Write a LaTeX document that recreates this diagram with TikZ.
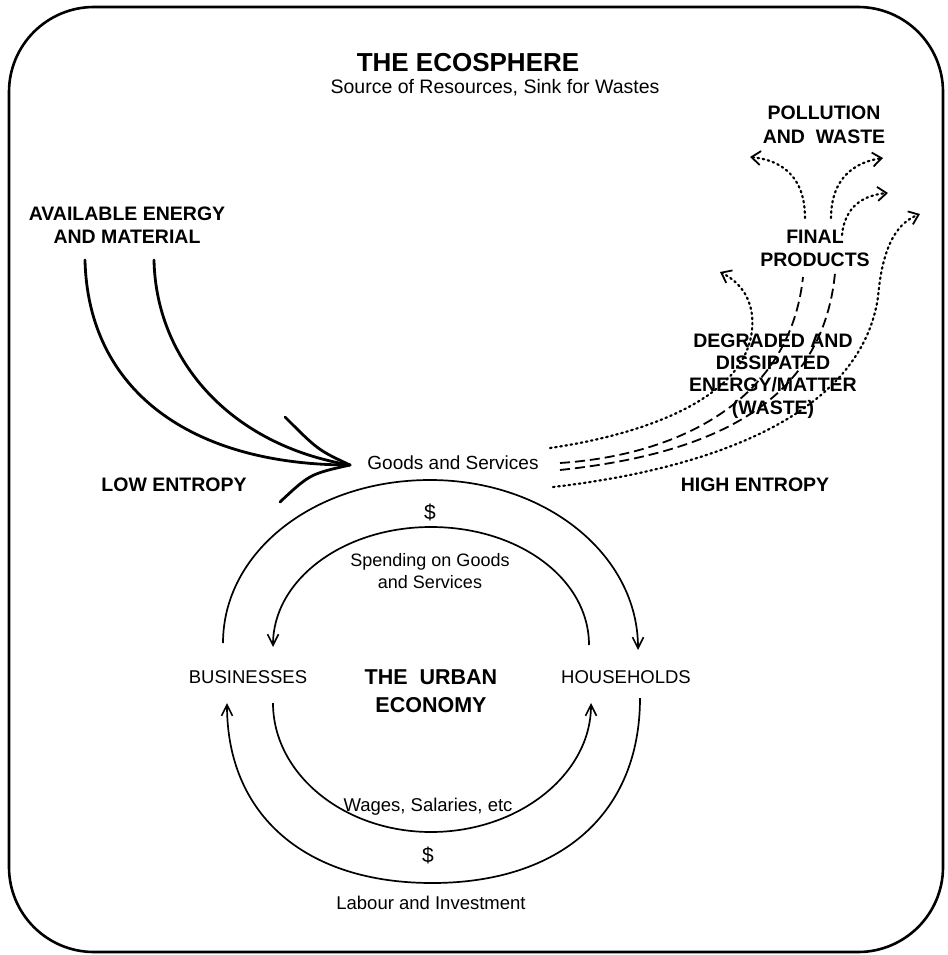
\documentclass[tikz,border=0pt]{standalone}
\usepackage{fontspec}
\setmainfont{Liberation Sans}
\usetikzlibrary{arrows.meta}
\begin{document}
\begin{tikzpicture}[x=1pt,y=-1pt,
  lbl/.style={font=\fontsize{19.5}{23.5}\selectfont\bfseries, align=center, inner sep=0pt},
  txt/.style={font=\fontsize{18.5}{22}\selectfont, align=center, inner sep=0pt},
  frame/.style={line width=2.6pt, rounded corners=85pt},
  bigline/.style={line width=2.8pt, line cap=round},
  loopline/.style={line width=1.7pt},
  looptip/.style={-{Straight Barb[length=11pt,width=11pt,line width=1.6pt]}},
  dotline/.style={line width=2.2pt, dash pattern=on 1.6pt off 3.6pt, line cap=round},
  dashline/.style={line width=1.8pt, dash pattern=on 10pt off 5pt},
  dottip/.style={-{Straight Barb[length=9pt,width=14pt,line width=1.8pt]}}]
\useasboundingbox (0,0) rectangle (947,955);
\draw[frame] (9,7) rectangle (943,952);

% titles
\node[font=\fontsize{26}{30}\selectfont\bfseries, inner sep=0pt] (title) at (468,63) {THE ECOSPHERE};
\node[font=\fontsize{19.5}{23}\selectfont, inner sep=0pt] (subtitle) at (495,88) {Source of Resources, Sink for Wastes};

% labels
\node[lbl] (poll) at (824,125) {POLLUTION\\AND~~WASTE};
\node[lbl, font=\fontsize{19.5}{23}\selectfont\bfseries] (final) at (815,248) {FINAL\\PRODUCTS};
\node[lbl, font=\fontsize{19.5}{22.3}\selectfont\bfseries] (degr) at (773,376) {DEGRADED AND\\DISSIPATED\\ENERGY/MATTER\\(WASTE)};
\node[lbl] (high) at (755,485) {HIGH ENTROPY};
\node[lbl] (avail) at (127,225) {AVAILABLE ENERGY\\AND MATERIAL};
\node[lbl] (low) at (174,485) {LOW ENTROPY};
\node[txt, font=\fontsize{19}{22}\selectfont] (gs) at (453,463) {Goods and Services};
\node[txt, font=\fontsize{21}{24}\selectfont] (dol1) at (430,512) {\$};
\node[txt, font=\fontsize{18}{22}\selectfont] (spend) at (430,571) {Spending on Goods\\and Services};
\node[txt] (bus) at (248,677) {BUSINESSES};
\node[txt] (hou) at (626,677) {HOUSEHOLDS};
\node[font=\fontsize{21.5}{28}\selectfont\bfseries, align=center, inner sep=0pt] (urban) at (431,691) {THE~~URBAN\\ECONOMY};
\node[txt] (wages) at (428,807) {Wages, Salaries, etc};
\node[txt, font=\fontsize{21}{24}\selectfont] (dol2) at (428,855) {\$};
\node[txt] (labour) at (431,903) {Labour and Investment};

% left input arrows
\coordinate (avL) at (85,260);
\coordinate (avR) at (154,260);
\coordinate (tipL) at (350,465);
\coordinate (barbU) at (285,417);
\coordinate (barbD) at (280,502);
\draw[bigline] (avL) .. controls (88,390) and (190,465) .. (tipL);
\draw[bigline] (avR) .. controls (156,360) and (230,445) .. (tipL);
\draw[bigline] (barbU) .. controls (318,450) .. (tipL);
\draw[bigline] (barbD) .. controls (310,474) .. (tipL);

% economy loops
\coordinate (otL) at (223,643); \coordinate (otP) at (430,480); \coordinate (otR) at (638,650);
\coordinate (itR) at (589,645); \coordinate (itP) at (431,527); \coordinate (itL) at (273,647);
\coordinate (obR) at (640,698); \coordinate (obP) at (432,883); \coordinate (obL) at (227,703);
\coordinate (ibL) at (273,703); \coordinate (ibP) at (431,832); \coordinate (ibR) at (591,703);
\draw[loopline, looptip] (otL) .. controls +(0,-91) and +(-116,0) .. (otP) .. controls +(116,0) and +(0,-95) .. (otR);
\draw[loopline, looptip] (itR) .. controls +(0,-66) and +(88,0) .. (itP) .. controls +(-88,0) and +(0,-67) .. (itL);
\draw[loopline, looptip] (obR) .. controls +(0,115) and +(129,0) .. (obP) .. controls +(-127,0) and +(0,112) .. (obL);
\draw[loopline, looptip] (ibL) .. controls +(0,71) and +(-87,0) .. (ibP) .. controls +(88,0) and +(0,71) .. (ibR);

% waste flows
\coordinate (d1s) at (550,448); \coordinate (d1m) at (752,330); \coordinate (d1e) at (720,272);
\coordinate (dAs) at (560,463); \coordinate (dAe) at (803,277);
\coordinate (dBs) at (560,470); \coordinate (dBe) at (835,273);
\coordinate (d4s) at (553,487); \coordinate (d4m) at (878,297); \coordinate (d4e) at (920,214);
\coordinate (t1s) at (805,218); \coordinate (t1e) at (750,157);
\coordinate (t2s) at (831,218); \coordinate (t2e) at (883,158);
\coordinate (t3s) at (842,235); \coordinate (t3e) at (888,193);
\draw[dotline, dottip] (d1s) .. controls (640,435) and (745,400) .. (d1m) .. controls (755,300) and (740,282) .. (d1e);
\draw[dashline] (dAs) .. controls (680,455) and (790,400) .. (dAe);
\draw[dashline] (dBs) .. controls (700,455) and (822,410) .. (dBe);
\draw[dotline, dottip] (d4s) .. controls (700,470) and (860,420) .. (d4m) .. controls (883,240) and (900,222) .. (d4e);
\draw[dotline, dottip] (t1s) .. controls (805,175) and (780,160) .. (t1e);
\draw[dotline, dottip] (t2s) .. controls (831,178) and (855,162) .. (t2e);
\draw[dotline, dottip] (t3s) .. controls (845,205) and (865,195) .. (t3e);
\end{tikzpicture}
\end{document}
